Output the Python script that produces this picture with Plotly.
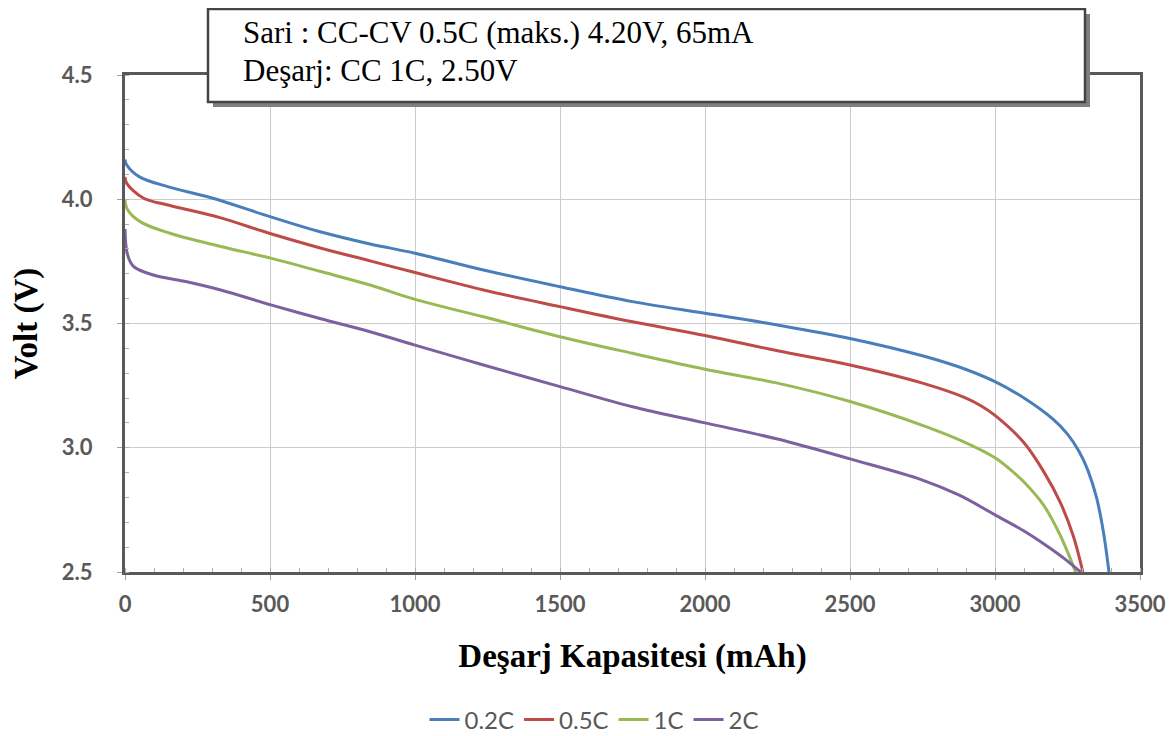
import plotly.graph_objects as go

# Capacity (mAh) and voltage (V)
cap_02 = [0, 5, 50, 150, 300, 500, 670, 845, 1000, 1236, 1500, 1750, 2000, 2250, 2500, 2750, 2900, 3000, 3100, 3200, 3250, 3290, 3320, 3350, 3374, 3393]
v_02 = [4.16, 4.14, 4.09, 4.05, 4.005, 3.93, 3.87, 3.82, 3.783, 3.715, 3.648, 3.588, 3.541, 3.494, 3.44, 3.37, 3.315, 3.266, 3.20, 3.115, 3.055, 2.985, 2.91, 2.80, 2.66, 2.50]

cap_05 = [0, 6, 63, 155, 330, 500, 670, 845, 1000, 1236, 1500, 1750, 2000, 2250, 2500, 2750, 2900, 2950, 3000, 3100, 3170, 3225, 3270, 3303]
v_05 = [4.09, 4.064, 4.005, 3.975, 3.925, 3.862, 3.805, 3.752, 3.705, 3.635, 3.568, 3.507, 3.452, 3.39, 3.333, 3.26, 3.20, 3.17, 3.13, 3.02, 2.90, 2.78, 2.645, 2.50]

cap_1 = [0, 8, 52, 155, 330, 506, 672, 845, 1000, 1236, 1500, 1750, 2000, 2250, 2500, 2750, 2900, 3000, 3050, 3100, 3167, 3224, 3278]
v_1 = [4.00, 3.96, 3.91, 3.863, 3.81, 3.762, 3.71, 3.655, 3.597, 3.527, 3.447, 3.38, 3.316, 3.26, 3.186, 3.09, 3.02, 2.96, 2.915, 2.862, 2.77, 2.65, 2.50]

cap_2 = [0, 8, 29, 98, 213, 330, 506, 672, 845, 1000, 1236, 1500, 1750, 2000, 2250, 2500, 2750, 2875, 3000, 3100, 3170, 3236, 3295]
v_2 = [3.88, 3.78, 3.73, 3.695, 3.668, 3.635, 3.574, 3.52, 3.467, 3.413, 3.333, 3.246, 3.165, 3.10, 3.035, 2.955, 2.87, 2.81, 2.73, 2.665, 2.612, 2.557, 2.50]

series_names = ["0.2C", "0.5C", "1C", "2C"]
series_colors = ["#4a7ebb", "#be4b48", "#98b954", "#7d60a0"]

fig = go.Figure()
for name, xs, ys, col in zip(series_names, [cap_02, cap_05, cap_1, cap_2], [v_02, v_05, v_1, v_2], series_colors):
    fig.add_trace(go.Scatter(x=xs, y=ys, mode="lines", name=name,
                             line=dict(color=col, width=3, shape="spline", smoothing=1.0)))

W, H = 1175, 736
OFF = 8  # page body margin
L, R, T, B = 117, 43, 67, 172
pw, ph = W - L - R, H - T - B

def px(sx):
    return (sx - OFF - L) / pw

def py(sy):
    return (H - B - (sy - OFF)) / ph

tickfont = dict(family="Lato, Open Sans, sans-serif", size=22, color="#595959", weight="bold")
serif_bold = dict(family="Liberation Serif, Times New Roman, serif", size=33, color="black", weight="bold")
fig.update_layout(
    width=W, height=H,
    margin=dict(l=L, r=R, t=T, b=B, autoexpand=False),
    paper_bgcolor="white", plot_bgcolor="white",
    xaxis=dict(range=[0, 3500], dtick=500, tickfont=tickfont, ticklabelstandoff=6,
               showgrid=True, gridcolor="#cccccc", gridwidth=1.3,
               showline=True, linecolor="#595959", linewidth=3, mirror=True,
               ticks="outside", ticklen=5, tickcolor="#a0a0a0", zeroline=False,
               minor=dict(dtick=100, ticks="inside", ticklen=4, tickcolor="#b0b0b0", showgrid=False),
               title=dict(text="Deşarj Kapasitesi (mAh)", standoff=28, font=serif_bold)),
    yaxis=dict(range=[2.5, 4.5], dtick=0.5, tickformat=".1f", tickfont=tickfont, ticklabelstandoff=20,
               showgrid=True, gridcolor="#cccccc", gridwidth=1.3,
               showline=True, linecolor="#595959", linewidth=3, mirror=True,
               ticks="outside", ticklen=5, tickcolor="#a0a0a0", zeroline=False,
               minor=dict(dtick=0.1, ticks="inside", ticklen=4, tickcolor="#b0b0b0", showgrid=False),
               title=dict(text="Volt (V)", standoff=22, font=serif_bold)),
    legend=dict(orientation="h", x=px(594), xanchor="center", y=py(720), yanchor="middle",
                font=dict(family="Lato, Open Sans, sans-serif", size=24, color="#595959"),
                itemwidth=30, bgcolor="rgba(0,0,0,0)"),
    showlegend=True,
)

# Annotation box with shadow
bx0, bx1, by0, by1 = 208, 1085, 9, 102
fig.add_shape(type="rect", xref="paper", yref="paper",
              x0=px(bx0 + 5), x1=px(bx1 + 5), y0=py(by1 + 5), y1=py(by0 + 5),
              fillcolor="#808080", line=dict(width=0), layer="above")
fig.add_shape(type="rect", xref="paper", yref="paper",
              x0=px(bx0), x1=px(bx1), y0=py(by1), y1=py(by0),
              fillcolor="white", line=dict(color="#444444", width=2.5), layer="above")
note_font = dict(family="Liberation Serif, Times New Roman, serif", size=31, color="black")
fig.add_annotation(text="Sari : CC-CV 0.5C (maks.) 4.20V, 65mA", xref="paper", yref="paper",
                   x=px(241), y=py(33), xanchor="left", yanchor="middle", showarrow=False, font=note_font)
fig.add_annotation(text="Deşarj: CC 1C, 2.50V", xref="paper", yref="paper",
                   x=px(241), y=py(70), xanchor="left", yanchor="middle", showarrow=False, font=note_font)

fig.write_html("out.html")
